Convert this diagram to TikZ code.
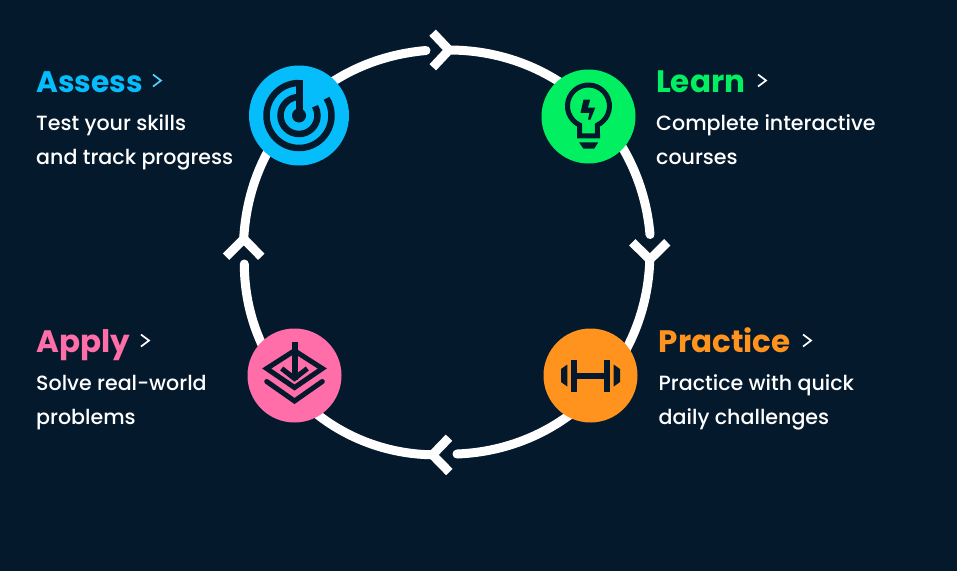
\documentclass[tikz,border=0pt]{standalone}
\usepackage{fontspec}
\setmainfont{Poppins}
\newfontfamily\bodyfont{Poppins Medium}
\definecolor{navy}{HTML}{05192D}
\definecolor{skyblue}{HTML}{06BDFC}
\definecolor{brightgreen}{HTML}{03EF62}
\definecolor{warmorange}{HTML}{FF931E}
\definecolor{hotpink}{HTML}{FF6EA9}
\tikzset{
    ringline/.style={draw=white, line width=9pt, line cap=round},
    fletch/.style={draw=white, line width=9pt, miter limit=4},
    badge/.style={circle, inner sep=0pt, minimum size=94pt},
    title/.style={anchor=base west, inner sep=0pt, font=\bfseries\fontsize{31}{31}\selectfont},
    body/.style={anchor=base west, inner sep=0pt, text=white, font=\bodyfont\fontsize{20.6}{20.6}\selectfont},
    chev/.style={line width=1.7pt},
    icon/.style={draw=navy, line width=5pt},
}
\begin{document}
\begin{tikzpicture}[x=1pt,y=-1pt]
            \useasboundingbox (0,0) rectangle (957,571);
            \fill[navy] (0,0) rectangle (957,571);
            % ring
            \coordinate (topTail) at (449,50);
            \coordinate (rightTail) at (649.8,259.5);
            \coordinate (bottomTail) at (432.5,454.8);
            \coordinate (leftTail) at (243.7,239);
            \coordinate (topEnd) at (426,50.5);
            \coordinate (rightEnd) at (650,234.5);
            \coordinate (bottomEnd) at (457,454);
            \coordinate (leftEnd) at (244.3,264);
            \draw[ringline] (topTail) to[bend left=42.5] (rightEnd);
            \draw[ringline] (rightTail) to[bend left=43] (bottomEnd);
            \draw[ringline] (bottomTail) to[bend left=44.5] (leftEnd);
            \draw[ringline] (leftTail) to[bend left=41] (topEnd);
            \draw[fletch] (432.6,32.7) -- (topTail) -- (432.8,67.3);
            \draw[fletch] (632.3,242.3) -- (rightTail) -- (667.3,242.3);
            \draw[fletch] (449,437.7) -- (bottomTail) -- (449.3,472);
            \draw[fletch] (226,256.7) -- (leftTail) -- (261.3,256.7);
            % badges
            \node[badge, fill=skyblue, minimum size=100pt] (assess) at (299,115.5){};
            \node[badge, fill=brightgreen] (learn) at (588.5,116.5){};
            \node[badge, fill=warmorange] (practice) at (590.5,375.5){};
            \node[badge, fill=hotpink] (apply) at (294.5,375.5){};
            % radar
            \begin{scope}[shift={(assess.center)}]
                \draw[icon, line width=6.5pt] (0,-32.5) arc[start angle=-90, end angle=-392, radius=32.5];
                \draw[icon, line width=6.5pt] (0,-18.5) arc[start angle=-90, end angle=-390, radius=18.5];
                \fill[navy] (-3.5,-35.5) rectangle (3.5,0);
                \fill[navy] (0,0) circle[radius=7];
            \end{scope}
            % bulb
            \begin{scope}[shift={(learn.center)}]
                \draw[icon] (-9,19.3) -- (-9,8.5) arc[start angle=115.3, end angle=424.7, radius=21] -- (9,19.3) -- cycle;
                \fill[navy] (-9.5,25.8) -- (9.8,25.8) -- (5.8,32) -- (-5.2,32) -- cycle;
                \fill[navy] (-5,-17) -- (1.7,-17) -- (-0.5,-9) -- (6.8,-9) -- (2,3) -- (-0.5,3) -- (1,-3.7) -- (-8,-3.7) -- cycle;
            \end{scope}
            % dumbbell
            \begin{scope}[shift={(practice.center)}]
                \fill[navy] (-19.8,-16) rectangle (-13.8,16);
                \fill[navy] (13.5,-16) rectangle (19.5,16);
                \fill[navy] (-14,-3) rectangle (14,3);
                \fill[navy] (-23.2,-11) -- (-23.2,11) -- (-29.5,6.5) -- (-29.5,-6.5) -- cycle;
                \fill[navy] (23.2,-11) -- (23.2,11) -- (29.5,6.5) -- (29.5,-6.5) -- cycle;
            \end{scope}
            % layers
            \begin{scope}[shift={(apply.center)}]
                \draw[icon, line join=miter] (0,-24.8) -- (27.8,-7) -- (0,12) -- (-27.8,-7) -- cycle;
                \draw[icon] (-12.8,-7) -- (0,3) -- (12.8,-7);
                \fill[navy] (-3,-34) rectangle (3,4);
                \draw[icon, line cap=round] (-27.8,6) -- (0,25.5) -- (27.8,6);
            \end{scope}
            % labels
            \node[title, text=skyblue, font=\bfseries\fontsize{29.7}{29.7}\selectfont] (assessTitle) at (36,92.7){Assess};
            \node[body] (assessOne) at (36,130.3){Test your skills};
            \node[body] (assessTwo) at (36,164.3){and track progress};
            \node[title, text=brightgreen] (learnTitle) at (656,92.7){Learn};
            \node[body] (learnOne) at (656,130.3){Complete interactive};
            \node[body] (learnTwo) at (656,164.3){courses};
            \node[title, text=warmorange] (practiceTitle) at (658.5,352.7){Practice};
            \node[body] (practiceOne) at (658.5,390.3){Practice with quick};
            \node[body] (practiceTwo) at (658.5,424.3){daily challenges};
            \node[title, text=hotpink] (applyTitle) at (36,352.7){Apply};
            \node[body] (applyOne) at (36,390.3){Solve real-world};
            \node[body] (applyTwo) at (36,424.3){problems};
            % small chevrons
            \foreach \x/\y/\c in {157/80.5/skyblue!70!white, 762/80.5/white, 807/340.5/white, 145/340.5/white}
                \draw[chev, draw=\c] (\x-4,\y-6) -- (\x+4,\y) -- (\x-4,\y+6);
        \end{tikzpicture}
\end{document}
